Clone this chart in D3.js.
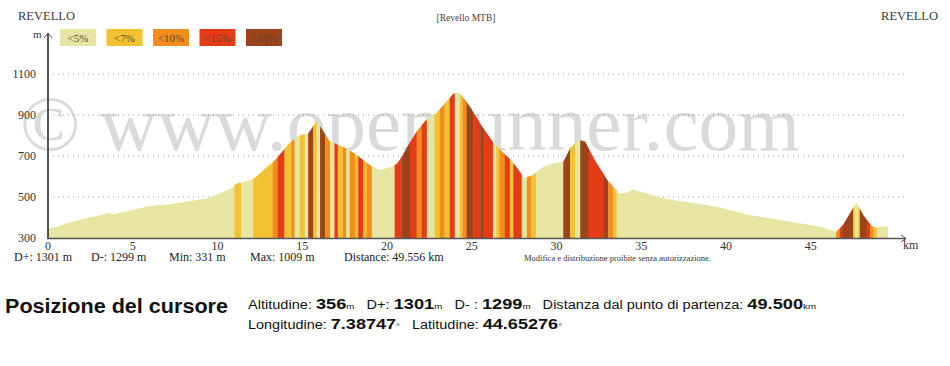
<!DOCTYPE html>
<html><head><meta charset="utf-8">
<script src="https://cdn.jsdelivr.net/npm/d3@7"></script>
<style>
body{margin:0;background:#fff;}
svg{display:block;}
text{white-space:pre;}
</style></head>
<body>
<svg id="c" width="950" height="366"></svg>
<script>
// ---- data ----
const distKm = [0,0.5,1.0,1.5,2.0,2.5,3.0,3.6,3.9,4.3,5.0,6.0,7.0,8.0,8.4,9.0,9.4,10.0,10.6,10.9,11.0,11.3,12.0,12.3,12.9,13.3,13.7,14.2,14.7,15.0,15.3,15.5,15.85,16.2,16.6,17.0,17.6,18.1,18.6,19.1,19.6,20.2,20.6,20.9,21.2,21.75,22.3,22.9,23.5,23.9,24.1,24.3,24.6,24.9,25.5,26.3,27.3,27.7,28.1,28.6,29.2,29.8,30.4,30.8,31.3,31.7,32.2,33.0,33.7,34.1,34.5,35.3,36.1,37.1,38.5,39.6,40.5,41.4,42.3,43.2,44.1,45.0,45.8,46.5,46.9,47.3,47.7,48.1,48.6,48.8,49.556];
const altM   = [345,355,368,380,392,402,410,422,416,424,436,456,464,475,480,488,494,512,534,548,560,570,583,600,645,672,710,760,794,805,806,827,872,827,775,758,737,712,680,650,632,645,664,700,745,819,876,908,965,1002,1009,1006,975,940,859,762,680,640,591,607,648,664,672,737,781,770,689,583,518,520,537,518,498,482,466,450,430,412,400,388,375,363,350,331,363,420,472,412,358,352,356];
// gradient class segments: end km of each segment, and its class index
const segEnd   = [11.0,11.4,12.1,13.25,13.55,13.95,14.35,14.55,14.85,15.15,15.35,15.65,15.85,16.05,16.35,16.65,16.9,17.1,17.4,17.6,17.8,18.1,18.3,18.6,18.8,19.1,20.45,20.85,21.35,21.75,22.05,22.35,22.8,23.1,23.4,23.7,24.0,24.3,24.45,24.7,25.1,25.5,25.7,26.25,26.45,26.65,26.95,27.25,27.45,27.95,28.25,28.5,28.8,30.4,30.8,31.1,31.4,31.9,32.75,33.05,33.35,33.55,46.5,46.7,46.85,47.5,47.6,47.8,47.9,48.3,48.5,48.7,48.9,49.556];
const segClass = [0,1,0,1,2,3,1,2,0,1,0,4,1,0,4,2,0,3,1,2,0,2,1,3,1,2,0,3,4,3,2,3,0,1,2,1,3,0,1,2,4,3,4,3,0,1,2,3,1,3,0,2,1,0,4,1,0,4,3,4,2,1,0,2,3,4,1,0,1,4,3,2,1,0];
const legendLabels = ["<5%","<7%","<10%","<15%",">15%"];
const classColors  = ["#e6e6a2","#f3c232","#f28d20","#e53c18","#9b441b"];
const yTicks = [300,500,700,900,1100];
const xTicks = [0,5,10,15,20,25,30,35,40,45];
const statsLabels = ["D+: 1301 m","D-: 1299 m","Min: 331 m","Max: 1009 m","Distance: 49.556 km"];

// ---- drawing ----
const svg = d3.select("#c");
const serif = "'Liberation Serif','DejaVu Serif',serif";
const sans = "'Liberation Sans',Arial,sans-serif";
const x = d3.scaleLinear().domain([0,50]).range([48, 48+50*16.95]);
const y = d3.scaleLinear().domain([300,1100]).range([238, 74]);

svg.append("rect").attr("width",950).attr("height",366).attr("fill","#fff");

// watermark
svg.append("text").attr("x",20).attr("y",150).attr("font-family",serif).attr("font-size",78)
  .attr("fill","#dadada").attr("textLength",780).attr("lengthAdjust","spacingAndGlyphs")
  .text("\u00A9 www.openrunner.com");

// grid
svg.append("g").selectAll("line").data(yTicks.filter(d=>d>300)).join("line")
  .attr("x1",x(0)).attr("x2",905).attr("y1",d=>y(d)).attr("y2",d=>y(d))
  .attr("stroke","#9a9a9a").attr("stroke-width",1).attr("stroke-dasharray","1,4");

// profile
const pts = distKm.map((d,i)=>[d,altM[i]]);
const area = d3.area().x(d=>x(d[0])).y0(y(300)).y1(d=>y(d[1]));
svg.append("clipPath").attr("id","prof").append("path").attr("d",area(pts));
const segs = segEnd.map((e,i)=>({s: i?segEnd[i-1]:0, e, c: segClass[i]}));
svg.append("g").attr("clip-path","url(#prof)").selectAll("rect").data(segs).join("rect")
  .attr("x",d=>x(d.s)).attr("width",d=>x(d.e)-x(d.s)+0.3)
  .attr("y",y(1100)).attr("height",y(300)-y(1100))
  .attr("fill",d=>classColors[d.c]);

// axes
svg.append("line").attr("x1",48).attr("x2",48).attr("y1",34).attr("y2",239).attr("stroke","#555").attr("stroke-width",2);
svg.append("line").attr("x1",47).attr("x2",906).attr("y1",238.5).attr("y2",238.5).attr("stroke","#555").attr("stroke-width",1.5);
svg.append("path").attr("d","M44,38 L48,33 L52,38").attr("fill","none").attr("stroke","#555").attr("stroke-width",1);
svg.append("path").attr("d","M901,235 L906,238.5 L901,242").attr("fill","none").attr("stroke","#555").attr("stroke-width",1);

svg.append("g").selectAll("text").data(yTicks).join("text")
  .attr("x",36).attr("y",d=>y(d)+4).attr("text-anchor","end")
  .attr("font-family",serif).attr("font-size",12).attr("fill","#333").text(d=>d);
svg.append("g").selectAll("text").data(xTicks).join("text")
  .attr("x",d=>x(d)).attr("y",250).attr("text-anchor","middle")
  .attr("font-family",serif).attr("font-size",12).attr("fill","#333").text(d=>d);
svg.append("text").attr("x",903).attr("y",249).attr("font-family",serif).attr("font-size",12).attr("fill","#333").text("km");
svg.append("text").attr("x",33).attr("y",38).attr("font-family",serif).attr("font-size",11).attr("fill","#333").text("m");

// titles
svg.append("text").attr("x",18).attr("y",20).attr("font-family",serif).attr("font-size",12.5).attr("fill","#3a3a3a").text("REVELLO");
svg.append("text").attr("x",938).attr("y",20).attr("text-anchor","end").attr("font-family",serif).attr("font-size",12.5).attr("fill","#3a3a3a").text("REVELLO");
svg.append("text").attr("x",466).attr("y",21).attr("text-anchor","middle").attr("font-family",serif).attr("font-size",9.5).attr("fill","#444").text("[Revello MTB]");

// legend
const lg = svg.append("g").selectAll("g").data(legendLabels).join("g")
  .attr("transform",(d,i)=>`translate(${60+i*46.5},29)`);
lg.append("rect").attr("width",36).attr("height",17).attr("fill",(d,i)=>classColors[i]);
lg.append("text").attr("x",18).attr("y",13).attr("text-anchor","middle").attr("font-family",serif)
  .attr("font-size",11).attr("fill","#5a4630").text(d=>d);

// stats line
const statsX = [14,91,169,250,344];
svg.append("g").selectAll("text").data(statsLabels).join("text")
  .attr("x",(d,i)=>statsX[i]).attr("y",261).attr("font-family",serif).attr("font-size",12).attr("fill","#222").text(d=>d);
svg.append("text").attr("x",524).attr("y",261).attr("font-family",serif).attr("font-size",8.5).attr("fill","#333")
  .text("Modifica e distribuzione proibite senza autorizzazione.");

// cursor position
svg.append("text").attr("x",5).attr("y",313).attr("font-family",sans).attr("font-weight","bold").attr("font-size",20)
  .attr("textLength",223).attr("lengthAdjust","spacingAndGlyphs").attr("fill","#111").text("Posizione del cursore");
function infoLine(yPos, parts, width){
  const t = svg.append("text").attr("x",248).attr("y",yPos).attr("font-family",sans).attr("fill","#111")
    .attr("textLength",width).attr("lengthAdjust","spacingAndGlyphs");
  parts.forEach(p=>{
    t.append("tspan").attr("font-size",p[1]).attr("font-weight",p[2]?"bold":"normal").text(p[0]);
  });
}
infoLine(309,[["Altitudine: ",12],["356",15,1],["m",8],["   D+: ",12],["1301",15,1],["m",8],["   D- : ",12],["1299",15,1],["m",8],["   Distanza dal punto di partenza: ",12],["49.500",15,1],["km",8]],568);
infoLine(329,[["Longitudine: ",12],["7.38747",15,1],["\u00B0",8],["   Latitudine: ",12],["44.65276",15,1],["\u00B0",8]],314);
</script>
</body></html>
